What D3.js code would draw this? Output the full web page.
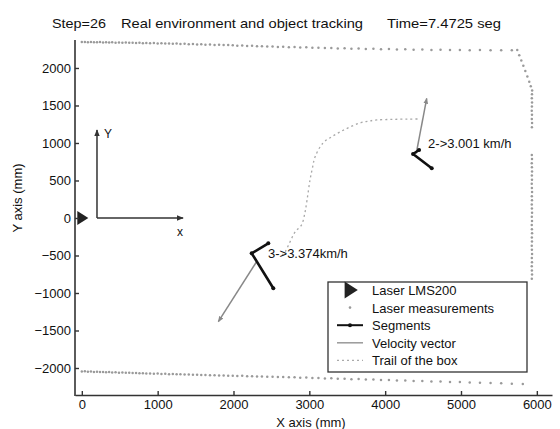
<!DOCTYPE html>
<html><head><meta charset="utf-8">
<script src="https://cdn.jsdelivr.net/npm/d3@7"></script>
<style>
html,body{margin:0;padding:0;background:#fff;}
svg{display:block;font-family:"Liberation Sans",Arial,sans-serif;}
</style></head>
<body>
<svg id="chart" width="560" height="429"></svg>
<script>
// ---------- data (mm) ----------
const titleParts = ["Step=26", "Real environment and object tracking", "Time=7.4725 seg"];
const xTicks = [0, 1000, 2000, 3000, 4000, 5000, 6000];
const yTicks = [-2000, -1500, -1000, -500, 0, 500, 1000, 1500, 2000];
const xLabel = "X axis (mm)";
const yLabel = "Y axis (mm)";

const laserPos = [0, 0];

const topWall = [[0,2345],[40,2347],[80,2343],[120,2346],[160,2344],[200,2342],[240,2345],[280,2341],[320,2343],[360,2340],[400,2342],[445,2338],[490,2340],[535,2336],[580,2339],[625,2335],[670,2337],[715,2333],[760,2336],[805,2331],[850,2334],[900,2329],[950,2332],[1000,2327],[1050,2330],[1100,2325],[1150,2327],[1200,2322],[1250,2325],[1300,2320],[1355,2322],[1410,2317],[1465,2319],[1520,2314],[1575,2316],[1630,2311],[1690,2313],[1750,2308],[1810,2310],[1870,2305],[1930,2307],[1990,2302],[2050,2297],[2115,2299],[2180,2293],[2245,2295],[2310,2289],[2375,2291],[2445,2285],[2515,2287],[2585,2281],[2655,2283],[2730,2277],[2805,2279],[2880,2273],[2960,2275],[3040,2269],[3120,2271],[3205,2265],[3290,2267],[3375,2261],[3465,2263],[3555,2257],[3650,2259],[3745,2254],[3845,2256],[3945,2250],[4050,2252],[4155,2247],[4265,2249],[4375,2244],[4490,2246],[4610,2241],[4730,2243],[4855,2239],[4985,2241],[5115,2237],[5250,2239],[5390,2236],[5530,2238],[5670,2236]];

const rightWall = [[5742,2240],[5768,2170],[5795,2100],[5822,2030],[5848,1960],[5875,1885],[5900,1815],[5920,1755],[5938,1700],[5936,1650],[5934,1595],[5937,1540],[5935,1485],[5933,1430],[5936,1375],[5934,1320],[5937,1265],[5935,1210],
 [5934,840],[5936,785],[5933,730],[5935,675],[5937,620],[5934,565],[5936,510],[5933,455],[5935,400],[5937,345],[5934,290],[5936,235],[5933,180],[5935,125],[5937,70],[5934,15],[5936,-40],[5933,-95],[5935,-150],[5937,-205],[5934,-260],[5936,-315],[5933,-370],[5935,-425],[5937,-480],[5934,-535],[5936,-590],[5933,-645],[5935,-700],[5937,-755],[5934,-810]];

const bottomWall = [[0,-2047],[40,-2045],[80,-2050],[120,-2048],[160,-2052],[200,-2050],[240,-2054],[280,-2052],[320,-2056],[360,-2055],[400,-2059],[445,-2057],[490,-2062],[535,-2060],[580,-2065],[625,-2063],[670,-2068],[715,-2066],[760,-2071],[805,-2069],[850,-2073],[900,-2072],[950,-2076],[1000,-2075],[1050,-2079],[1100,-2078],[1150,-2082],[1200,-2080],[1250,-2085],[1300,-2083],[1355,-2088],[1410,-2086],[1465,-2091],[1520,-2089],[1575,-2094],[1630,-2093],[1690,-2097],[1750,-2096],[1810,-2100],[1870,-2099],[1930,-2103],[1990,-2102],[2050,-2106],[2115,-2105],[2180,-2110],[2245,-2109],[2310,-2113],[2375,-2112],[2445,-2117],[2515,-2116],[2585,-2121],[2655,-2120],[2730,-2125],[2805,-2124],[2880,-2129],[2960,-2128],[3040,-2134],[3120,-2133],[3205,-2139],[3290,-2138],[3375,-2144],[3465,-2143],[3555,-2149],[3650,-2148],[3745,-2155],[3845,-2154],[3945,-2160],[4050,-2161],[4155,-2166],[4265,-2167],[4375,-2172],[4490,-2174],[4610,-2179],[4730,-2181],[4855,-2186],[4985,-2188],[5115,-2193],[5250,-2196],[5390,-2201],[5530,-2205],[5670,-2209],[5815,-2213]];

// tracked objects: segments (polyline), velocity vector, label
const objectIds = [2, 3];
const objectSegments = [
  [[4447,907],[4368,853],[4614,663]],
  [[2459,-337],[2240,-471],[2525,-937]]
];
const objectVelocity = [
  [[4410,860],[4548,1596]],
  [[2300,-590],[1800,-1383]]
];
const objectLabels = ["2->3.001 km/h", "3->3.374km/h"];
const labelPos = [[4566,933],[2455,-533]];

// trail of the box
const trail = [[2640,-500],[2680,-453],[2745,-320],[2811,-187],[2897,-93],[2940,60],[2970,240],[3009,507],[3040,660],[3075,813],[3180,1000],[3290,1080],[3405,1147],[3530,1210],[3668,1267],[3780,1292],[3892,1307],[4100,1315],[4300,1318],[4433,1320]];

// local reference frame drawn on the chart
const frameOrigin = [200, 0];
const frameX = [1335, 0];
const frameY = [200, 1173];

const legendLabels = ["Laser LMS200", "Laser measurements", "Segments", "Velocity vector", "Trail of the box"];

// ---------- drawing ----------
const svg = d3.select("#chart");
const x = d3.scaleLinear().domain([-90, 6200]).range([75, 552]);
const y = d3.scaleLinear().domain([-2360, 2373]).range([395, 40]);

const defs = svg.append("defs");
function arrowMarker(id, color, size) {
  defs.append("marker").attr("id", id).attr("viewBox", "0 0 10 10")
    .attr("refX", 9).attr("refY", 5).attr("markerWidth", size).attr("markerHeight", size)
    .attr("orient", "auto").attr("markerUnits", "userSpaceOnUse")
    .append("path").attr("d", "M0,1 L10,5 L0,9 Z").attr("fill", color);
}
arrowMarker("arrFrame", "#333", 7);
arrowMarker("arrVel", "#888", 6);

// title
const titleX = [[52, 54], [121, 242], [387, 114]];
titleParts.forEach((t, i) => {
  svg.append("text").attr("x", titleX[i][0]).attr("y", 28)
    .attr("textLength", titleX[i][1]).attr("lengthAdjust", "spacingAndGlyphs")
    .attr("font-size", 13).attr("fill", "#111").text(t);
});

// laser measurements
const meas = topWall.concat(rightWall, bottomWall);
svg.append("g").selectAll("circle").data(meas).join("circle")
  .attr("cx", d => x(d[0])).attr("cy", d => y(d[1])).attr("r", 1.25)
  .attr("fill", "#9a9a9a");

// trail
const line = d3.line().x(d => x(d[0])).y(d => y(d[1])).curve(d3.curveCatmullRom);
svg.append("path").attr("d", line(trail)).attr("fill", "none")
  .attr("stroke", "#a8a8a8").attr("stroke-width", 1.3).attr("stroke-dasharray", "2,3");

// reference frame
const lineS = d3.line().x(d => x(d[0])).y(d => y(d[1]));
[frameX, frameY].forEach(p => {
  svg.append("path").attr("d", lineS([frameOrigin, p])).attr("stroke", "#333")
    .attr("stroke-width", 1.5).attr("fill", "none").attr("marker-end", "url(#arrFrame)");
});
svg.append("text").attr("x", x(frameY[0]) + 7).attr("y", y(frameY[1]) + 8)
  .attr("font-size", 12).attr("fill", "#111").text("Y");
svg.append("text").attr("x", x(frameX[0]) - 6).attr("y", y(frameX[1]) + 18)
  .attr("font-size", 12).attr("fill", "#111").text("x");

// objects
objectIds.forEach((id, i) => {
  svg.append("path").attr("d", lineS(objectVelocity[i])).attr("stroke", "#888")
    .attr("stroke-width", 1.5).attr("fill", "none").attr("marker-end", "url(#arrVel)");
  svg.append("path").attr("d", lineS(objectSegments[i])).attr("stroke", "#111")
    .attr("stroke-width", 2.6).attr("fill", "none").attr("stroke-linejoin", "round");
  svg.append("g").selectAll("circle").data(objectSegments[i]).join("circle")
    .attr("cx", d => x(d[0])).attr("cy", d => y(d[1])).attr("r", 2).attr("fill", "#111");
  svg.append("text").attr("x", x(labelPos[i][0])).attr("y", y(labelPos[i][1]))
    .attr("font-size", 13).attr("fill", "#111").text(objectLabels[i]);
});

// laser
const tri = (cx, cy, s) => `M${cx - s * 0.45},${cy - s * 0.7} L${cx + s * 0.65},${cy} L${cx - s * 0.45},${cy + s * 0.7} Z`;
svg.append("path").attr("d", tri(x(laserPos[0]), y(laserPos[1]), 10)).attr("fill", "#222");

// axes
const fmt = d3.format("d");
const xAxis = d3.axisBottom(x).tickValues(xTicks).tickFormat(fmt).tickSizeInner(-4).tickSizeOuter(0).tickPadding(5);
const yAxis = d3.axisLeft(y).tickValues(yTicks).tickFormat(fmt).tickSizeInner(-4).tickSizeOuter(0).tickPadding(4);
const gx = svg.append("g").attr("transform", "translate(0,395)").call(xAxis);
const gy = svg.append("g").attr("transform", "translate(75,0)").call(yAxis);
[gx, gy].forEach(g => {
  g.select(".domain").attr("stroke", "#333").attr("stroke-width", 1.6);
  g.selectAll(".tick line").attr("stroke", "#333").attr("stroke-width", 1.4);
  g.selectAll(".tick text").attr("font-size", 13).attr("fill", "#111")
    .attr("font-family", "'Liberation Sans',Arial,sans-serif");
});
gy.select(".domain").attr("d", "M0,40V396");

svg.append("text").attr("x", 311).attr("y", 427).attr("text-anchor", "middle")
  .attr("font-size", 13).attr("fill", "#111").text(xLabel);
svg.append("text").attr("transform", "translate(22,198) rotate(-90)").attr("text-anchor", "middle")
  .attr("font-size", 13).attr("fill", "#111").text(yLabel);

// legend
const lg = svg.append("g");
lg.append("rect").attr("x", 328).attr("y", 282).attr("width", 199).attr("height", 90)
  .attr("fill", "#fff").attr("stroke", "#333").attr("stroke-width", 1.3);
legendLabels.forEach((t, i) => {
  const cy = 290 + i * 17.6;
  if (i === 0) lg.append("path").attr("d", tri(350, cy, 12)).attr("fill", "#222");
  if (i === 1) lg.append("circle").attr("cx", 350).attr("cy", cy).attr("r", 1.3).attr("fill", "#9a9a9a");
  if (i === 2) {
    lg.append("line").attr("x1", 337).attr("x2", 363).attr("y1", cy).attr("y2", cy)
      .attr("stroke", "#111").attr("stroke-width", 2);
    lg.append("circle").attr("cx", 350).attr("cy", cy).attr("r", 2).attr("fill", "#111");
  }
  if (i === 3) lg.append("line").attr("x1", 337).attr("x2", 363).attr("y1", cy).attr("y2", cy)
      .attr("stroke", "#999").attr("stroke-width", 1.5);
  if (i === 4) lg.append("line").attr("x1", 337).attr("x2", 363).attr("y1", cy).attr("y2", cy)
      .attr("stroke", "#aaa").attr("stroke-width", 1.3).attr("stroke-dasharray", "2,3");
  lg.append("text").attr("x", 372).attr("y", cy + 5).attr("font-size", 13)
    .attr("fill", "#111").text(t);
});
</script>
</body></html>
